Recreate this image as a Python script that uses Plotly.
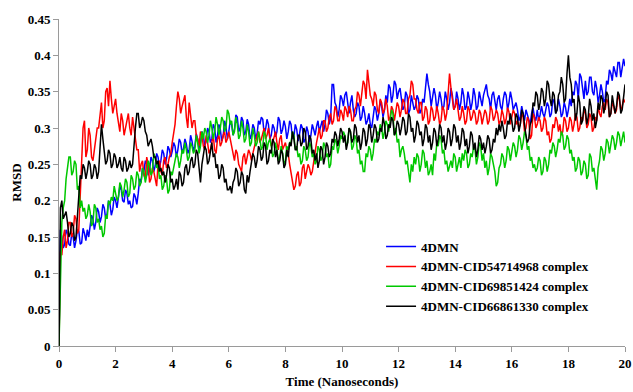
import plotly.graph_objects as go

# time axis: 0 to 20 ns in 0.05 ns steps
time_ns = [round(0.05 * i, 2) for i in range(401)]

series_names = ["4DMN", "4DMN-CID54714968 complex", "4DMN-CID69851424 complex", "4DMN-CID66861330 complex"]

rmsd_4dmn = [0,
    0.16, 0.15, 0.135, 0.14, 0.16, 0.155, 0.14, 0.138, 0.155, 0.15, 0.135, 0.145, 0.16, 0.158, 0.14, 0.142, 0.162, 0.155, 0.145, 0.16,
    0.15, 0.165, 0.18, 0.175, 0.16, 0.17, 0.19, 0.185, 0.17, 0.178, 0.195, 0.19, 0.175, 0.182, 0.2, 0.195, 0.18, 0.188, 0.205, 0.2,
    0.19, 0.205, 0.22, 0.215, 0.2, 0.198, 0.215, 0.21, 0.195, 0.2, 0.19, 0.192, 0.21, 0.205, 0.195, 0.21, 0.23, 0.225, 0.245, 0.24,
    0.255, 0.25, 0.235, 0.242, 0.26, 0.255, 0.24, 0.248, 0.265, 0.26, 0.245, 0.255, 0.27, 0.265, 0.25, 0.258, 0.275, 0.27, 0.26, 0.268,
    0.28, 0.275, 0.26, 0.27, 0.285, 0.28, 0.265, 0.272, 0.285, 0.278, 0.265, 0.27, 0.29, 0.282, 0.268, 0.275, 0.292, 0.285, 0.27, 0.28,
    0.295, 0.29, 0.275, 0.282, 0.3, 0.295, 0.28, 0.285, 0.305, 0.3, 0.28, 0.29, 0.305, 0.298, 0.282, 0.288, 0.31, 0.302, 0.285, 0.295,
    0.31, 0.305, 0.29, 0.298, 0.318, 0.315, 0.295, 0.3, 0.315, 0.31, 0.29, 0.295, 0.312, 0.305, 0.285, 0.29, 0.305, 0.3, 0.285, 0.292,
    0.31, 0.305, 0.315, 0.312, 0.292, 0.298, 0.312, 0.305, 0.285, 0.29, 0.305, 0.3, 0.288, 0.295, 0.315, 0.31, 0.292, 0.298, 0.31, 0.302,
    0.285, 0.295, 0.31, 0.305, 0.285, 0.288, 0.305, 0.298, 0.282, 0.292, 0.305, 0.3, 0.28, 0.285, 0.302, 0.295, 0.28, 0.29, 0.305, 0.298,
    0.29, 0.302, 0.31, 0.295, 0.305, 0.31, 0.295, 0.305, 0.325, 0.32, 0.305, 0.315, 0.36, 0.36, 0.335, 0.33, 0.315, 0.325, 0.345, 0.34,
    0.33, 0.345, 0.35, 0.33, 0.32, 0.335, 0.345, 0.325, 0.315, 0.32, 0.335, 0.33, 0.31, 0.315, 0.33, 0.32, 0.305, 0.31, 0.32, 0.305,
    0.3, 0.315, 0.33, 0.325, 0.31, 0.32, 0.338, 0.33, 0.315, 0.325, 0.345, 0.335, 0.36, 0.355, 0.335, 0.345, 0.365, 0.36, 0.34, 0.35,
    0.355, 0.34, 0.325, 0.33, 0.35, 0.345, 0.32, 0.325, 0.345, 0.335, 0.325, 0.33, 0.345, 0.34, 0.32, 0.325, 0.34, 0.335, 0.36, 0.375,
    0.36, 0.35, 0.33, 0.34, 0.355, 0.345, 0.325, 0.335, 0.35, 0.34, 0.325, 0.33, 0.35, 0.34, 0.325, 0.335, 0.355, 0.345, 0.325, 0.33,
    0.35, 0.34, 0.325, 0.335, 0.355, 0.345, 0.325, 0.33, 0.35, 0.34, 0.325, 0.335, 0.355, 0.345, 0.325, 0.33, 0.35, 0.34, 0.33, 0.345,
    0.355, 0.36, 0.345, 0.34, 0.325, 0.345, 0.35, 0.335, 0.325, 0.34, 0.345, 0.33, 0.325, 0.34, 0.35, 0.345, 0.325, 0.335, 0.35, 0.34,
    0.325, 0.33, 0.335, 0.325, 0.31, 0.315, 0.33, 0.32, 0.31, 0.325, 0.318, 0.31, 0.305, 0.32, 0.328, 0.315, 0.31, 0.325, 0.31, 0.318,
    0.33, 0.32, 0.315, 0.325, 0.335, 0.33, 0.315, 0.32, 0.34, 0.335, 0.32, 0.325, 0.34, 0.33, 0.315, 0.32, 0.335, 0.328, 0.315, 0.325,
    0.34, 0.33, 0.35, 0.345, 0.365, 0.36, 0.34, 0.375, 0.37, 0.355, 0.34, 0.365, 0.345, 0.35, 0.37, 0.37, 0.35, 0.345, 0.365, 0.355,
    0.335, 0.345, 0.36, 0.35, 0.335, 0.34, 0.365, 0.36, 0.38, 0.375, 0.365, 0.385, 0.375, 0.37, 0.39, 0.39, 0.37, 0.38, 0.395, 0.385]

rmsd_cid54714968 = [0,
    0.13, 0.125, 0.15, 0.16, 0.135, 0.145, 0.17, 0.17, 0.15, 0.155, 0.18, 0.175, 0.155, 0.16, 0.2, 0.24, 0.3, 0.31, 0.26, 0.27,
    0.3, 0.29, 0.26, 0.255, 0.27, 0.28, 0.3, 0.3, 0.32, 0.335, 0.3, 0.31, 0.35, 0.355, 0.33, 0.365, 0.34, 0.32, 0.33, 0.34,
    0.32, 0.305, 0.295, 0.32, 0.31, 0.29, 0.3, 0.31, 0.32, 0.3, 0.29, 0.315, 0.3, 0.29, 0.27, 0.27, 0.24, 0.25, 0.255, 0.235,
    0.23, 0.26, 0.25, 0.225, 0.23, 0.245, 0.24, 0.23, 0.22, 0.25, 0.255, 0.24, 0.235, 0.255, 0.26, 0.245, 0.25, 0.26, 0.265, 0.28,
    0.29, 0.305, 0.33, 0.35, 0.34, 0.32, 0.33, 0.34, 0.345, 0.315, 0.3, 0.335, 0.32, 0.3, 0.31, 0.31, 0.29, 0.285, 0.275, 0.295,
    0.29, 0.275, 0.27, 0.29, 0.28, 0.265, 0.27, 0.28, 0.29, 0.27, 0.265, 0.285, 0.29, 0.275, 0.28, 0.29, 0.295, 0.28, 0.285, 0.295,
    0.285, 0.27, 0.26, 0.255, 0.27, 0.265, 0.25, 0.245, 0.24, 0.26, 0.265, 0.25, 0.26, 0.27, 0.265, 0.255, 0.265, 0.275, 0.28, 0.29,
    0.295, 0.28, 0.285, 0.295, 0.3, 0.285, 0.29, 0.3, 0.285, 0.275, 0.28, 0.29, 0.295, 0.28, 0.27, 0.285, 0.29, 0.27, 0.275, 0.28,
    0.27, 0.265, 0.25, 0.24, 0.225, 0.215, 0.22, 0.235, 0.24, 0.22, 0.225, 0.245, 0.25, 0.23, 0.24, 0.25, 0.245, 0.235, 0.24, 0.255,
    0.265, 0.28, 0.29, 0.3, 0.285, 0.29, 0.31, 0.31, 0.295, 0.3, 0.315, 0.32, 0.305, 0.31, 0.33, 0.325, 0.31, 0.31, 0.325, 0.32,
    0.31, 0.33, 0.325, 0.315, 0.33, 0.325, 0.31, 0.31, 0.325, 0.33, 0.35, 0.345, 0.33, 0.35, 0.365, 0.36, 0.34, 0.38, 0.36, 0.345,
    0.34, 0.33, 0.35, 0.345, 0.325, 0.32, 0.34, 0.335, 0.32, 0.325, 0.34, 0.33, 0.31, 0.315, 0.33, 0.325, 0.31, 0.32, 0.335, 0.33,
    0.315, 0.325, 0.34, 0.335, 0.32, 0.32, 0.34, 0.345, 0.365, 0.36, 0.34, 0.34, 0.325, 0.32, 0.335, 0.335, 0.31, 0.315, 0.33, 0.325,
    0.305, 0.31, 0.33, 0.325, 0.31, 0.315, 0.33, 0.32, 0.305, 0.31, 0.33, 0.325, 0.31, 0.32, 0.345, 0.375, 0.355, 0.34, 0.325, 0.33,
    0.34, 0.325, 0.31, 0.315, 0.33, 0.32, 0.305, 0.31, 0.33, 0.325, 0.31, 0.315, 0.325, 0.32, 0.305, 0.31, 0.325, 0.32, 0.305, 0.315,
    0.325, 0.32, 0.305, 0.31, 0.33, 0.325, 0.31, 0.315, 0.325, 0.32, 0.305, 0.31, 0.325, 0.318, 0.305, 0.312, 0.328, 0.322, 0.305, 0.315,
    0.325, 0.32, 0.305, 0.31, 0.3, 0.305, 0.32, 0.315, 0.295, 0.3, 0.315, 0.31, 0.285, 0.29, 0.32, 0.315, 0.3, 0.305, 0.315, 0.31,
    0.295, 0.3, 0.315, 0.31, 0.29, 0.295, 0.28, 0.285, 0.305, 0.3, 0.315, 0.31, 0.295, 0.305, 0.29, 0.295, 0.315, 0.31, 0.295, 0.3,
    0.315, 0.31, 0.295, 0.305, 0.32, 0.315, 0.295, 0.3, 0.315, 0.31, 0.325, 0.32, 0.3, 0.305, 0.32, 0.315, 0.295, 0.3, 0.315, 0.31,
    0.33, 0.32, 0.315, 0.33, 0.335, 0.325, 0.34, 0.335, 0.315, 0.32, 0.335, 0.33, 0.32, 0.325, 0.345, 0.34, 0.325, 0.33, 0.34, 0.335]

rmsd_cid69851424 = [0,
    0.11, 0.17, 0.19, 0.2, 0.23, 0.245, 0.26, 0.26, 0.235, 0.24, 0.255, 0.25, 0.215, 0.22, 0.19, 0.2, 0.185, 0.19, 0.175, 0.18,
    0.195, 0.185, 0.165, 0.17, 0.195, 0.19, 0.17, 0.175, 0.16, 0.165, 0.15, 0.155, 0.18, 0.175, 0.2, 0.195, 0.205, 0.2, 0.22, 0.21,
    0.2, 0.205, 0.225, 0.22, 0.205, 0.215, 0.23, 0.225, 0.205, 0.21, 0.235, 0.23, 0.215, 0.22, 0.24, 0.235, 0.22, 0.225, 0.245, 0.24,
    0.225, 0.235, 0.255, 0.25, 0.235, 0.24, 0.265, 0.26, 0.245, 0.25, 0.23, 0.235, 0.215, 0.22, 0.235, 0.23, 0.21, 0.215, 0.24, 0.235,
    0.245, 0.25, 0.265, 0.26, 0.245, 0.255, 0.27, 0.265, 0.28, 0.27, 0.255, 0.26, 0.28, 0.275, 0.265, 0.27, 0.29, 0.28, 0.265, 0.275,
    0.295, 0.285, 0.3, 0.295, 0.28, 0.29, 0.31, 0.3, 0.285, 0.295, 0.315, 0.305, 0.29, 0.3, 0.315, 0.31, 0.295, 0.3, 0.325, 0.32,
    0.305, 0.31, 0.29, 0.295, 0.315, 0.305, 0.285, 0.29, 0.31, 0.3, 0.28, 0.285, 0.305, 0.295, 0.275, 0.28, 0.3, 0.29, 0.275, 0.28,
    0.295, 0.285, 0.27, 0.275, 0.295, 0.29, 0.27, 0.28, 0.285, 0.275, 0.26, 0.265, 0.28, 0.27, 0.255, 0.26, 0.275, 0.265, 0.25, 0.255,
    0.275, 0.27, 0.28, 0.28, 0.295, 0.29, 0.27, 0.275, 0.26, 0.265, 0.25, 0.255, 0.275, 0.27, 0.255, 0.26, 0.28, 0.275, 0.26, 0.265,
    0.25, 0.255, 0.275, 0.27, 0.255, 0.26, 0.28, 0.275, 0.26, 0.265, 0.245, 0.25, 0.275, 0.27, 0.285, 0.28, 0.265, 0.275, 0.29, 0.285,
    0.295, 0.29, 0.275, 0.28, 0.3, 0.295, 0.27, 0.275, 0.29, 0.285, 0.265, 0.27, 0.25, 0.255, 0.24, 0.24, 0.265, 0.26, 0.275, 0.27,
    0.255, 0.265, 0.285, 0.28, 0.295, 0.29, 0.305, 0.3, 0.285, 0.295, 0.31, 0.305, 0.295, 0.31, 0.325, 0.32, 0.29, 0.3, 0.28, 0.285,
    0.26, 0.27, 0.275, 0.265, 0.25, 0.255, 0.235, 0.225, 0.25, 0.24, 0.26, 0.25, 0.265, 0.26, 0.24, 0.25, 0.27, 0.265, 0.245, 0.255,
    0.235, 0.24, 0.25, 0.235, 0.265, 0.255, 0.28, 0.275, 0.29, 0.285, 0.265, 0.27, 0.25, 0.255, 0.24, 0.25, 0.255, 0.245, 0.265, 0.26,
    0.24, 0.25, 0.26, 0.245, 0.265, 0.255, 0.27, 0.265, 0.245, 0.25, 0.265, 0.26, 0.275, 0.27, 0.25, 0.26, 0.28, 0.275, 0.255, 0.265,
    0.245, 0.255, 0.235, 0.245, 0.265, 0.26, 0.25, 0.24, 0.22, 0.225, 0.245, 0.25, 0.265, 0.26, 0.245, 0.255, 0.275, 0.27, 0.255, 0.265,
    0.28, 0.275, 0.26, 0.27, 0.29, 0.285, 0.27, 0.28, 0.295, 0.29, 0.27, 0.275, 0.255, 0.26, 0.245, 0.25, 0.24, 0.245, 0.26, 0.255,
    0.235, 0.24, 0.26, 0.255, 0.24, 0.25, 0.27, 0.265, 0.28, 0.275, 0.26, 0.27, 0.285, 0.28, 0.295, 0.29, 0.27, 0.275, 0.29, 0.285,
    0.265, 0.27, 0.255, 0.26, 0.24, 0.245, 0.26, 0.255, 0.235, 0.24, 0.255, 0.25, 0.23, 0.235, 0.265, 0.26, 0.24, 0.245, 0.225, 0.215,
    0.245, 0.255, 0.275, 0.27, 0.255, 0.265, 0.285, 0.28, 0.265, 0.275, 0.29, 0.285, 0.27, 0.28, 0.295, 0.29, 0.275, 0.285, 0.295, 0.28]

rmsd_cid66861330 = [0,
    0.19, 0.2, 0.175, 0.18, 0.185, 0.17, 0.15, 0.155, 0.17, 0.165, 0.145, 0.15, 0.18, 0.2, 0.235, 0.23, 0.25, 0.245, 0.23, 0.24,
    0.255, 0.25, 0.23, 0.235, 0.25, 0.245, 0.23, 0.24, 0.28, 0.305, 0.285, 0.27, 0.25, 0.255, 0.27, 0.265, 0.245, 0.25, 0.265, 0.26,
    0.245, 0.25, 0.26, 0.245, 0.24, 0.26, 0.255, 0.24, 0.245, 0.255, 0.245, 0.25, 0.28, 0.3, 0.32, 0.32, 0.3, 0.305, 0.315, 0.31,
    0.295, 0.29, 0.275, 0.28, 0.285, 0.275, 0.26, 0.26, 0.25, 0.255, 0.24, 0.245, 0.235, 0.24, 0.225, 0.235, 0.25, 0.245, 0.225, 0.23,
    0.215, 0.22, 0.23, 0.215, 0.24, 0.235, 0.22, 0.225, 0.245, 0.25, 0.235, 0.24, 0.255, 0.26, 0.245, 0.25, 0.27, 0.265, 0.24, 0.225,
    0.25, 0.26, 0.275, 0.27, 0.25, 0.255, 0.27, 0.28, 0.26, 0.265, 0.245, 0.25, 0.23, 0.235, 0.25, 0.245, 0.225, 0.23, 0.215, 0.215,
    0.22, 0.21, 0.225, 0.23, 0.245, 0.24, 0.22, 0.225, 0.24, 0.235, 0.215, 0.21, 0.235, 0.225, 0.24, 0.25, 0.265, 0.26, 0.245, 0.255,
    0.275, 0.27, 0.255, 0.26, 0.28, 0.275, 0.25, 0.255, 0.27, 0.265, 0.285, 0.28, 0.26, 0.27, 0.25, 0.255, 0.27, 0.265, 0.245, 0.25,
    0.27, 0.26, 0.28, 0.275, 0.295, 0.285, 0.27, 0.27, 0.29, 0.29, 0.275, 0.28, 0.3, 0.295, 0.27, 0.275, 0.29, 0.285, 0.265, 0.27,
    0.255, 0.265, 0.245, 0.255, 0.275, 0.27, 0.25, 0.26, 0.28, 0.275, 0.26, 0.265, 0.285, 0.28, 0.295, 0.29, 0.275, 0.285, 0.3, 0.295,
    0.28, 0.29, 0.27, 0.28, 0.3, 0.295, 0.28, 0.285, 0.305, 0.3, 0.28, 0.29, 0.27, 0.28, 0.3, 0.295, 0.275, 0.285, 0.305, 0.3,
    0.28, 0.29, 0.305, 0.3, 0.28, 0.285, 0.3, 0.295, 0.315, 0.305, 0.285, 0.29, 0.305, 0.3, 0.315, 0.31, 0.29, 0.295, 0.31, 0.305,
    0.29, 0.3, 0.315, 0.31, 0.29, 0.295, 0.32, 0.315, 0.295, 0.3, 0.28, 0.29, 0.31, 0.305, 0.29, 0.295, 0.275, 0.285, 0.305, 0.3,
    0.28, 0.29, 0.27, 0.28, 0.3, 0.295, 0.275, 0.285, 0.305, 0.3, 0.28, 0.29, 0.27, 0.28, 0.3, 0.295, 0.275, 0.285, 0.305, 0.3,
    0.28, 0.29, 0.27, 0.28, 0.3, 0.295, 0.275, 0.285, 0.265, 0.275, 0.295, 0.29, 0.27, 0.28, 0.26, 0.27, 0.29, 0.285, 0.27, 0.28,
    0.265, 0.275, 0.29, 0.285, 0.265, 0.27, 0.285, 0.28, 0.3, 0.29, 0.305, 0.295, 0.31, 0.3, 0.285, 0.29, 0.31, 0.305, 0.32, 0.31,
    0.295, 0.3, 0.32, 0.315, 0.295, 0.305, 0.325, 0.32, 0.3, 0.29, 0.28, 0.285, 0.305, 0.31, 0.335, 0.33, 0.35, 0.345, 0.325, 0.335,
    0.355, 0.35, 0.33, 0.34, 0.365, 0.36, 0.34, 0.33, 0.35, 0.345, 0.32, 0.325, 0.345, 0.35, 0.37, 0.36, 0.335, 0.34, 0.375, 0.4,
    0.37, 0.36, 0.335, 0.34, 0.31, 0.32, 0.345, 0.335, 0.305, 0.31, 0.33, 0.325, 0.305, 0.315, 0.34, 0.33, 0.31, 0.32, 0.3, 0.31,
    0.335, 0.325, 0.345, 0.34, 0.32, 0.33, 0.35, 0.345, 0.315, 0.32, 0.345, 0.335, 0.32, 0.33, 0.35, 0.345, 0.32, 0.325, 0.34, 0.36]

series_values = [rmsd_4dmn, rmsd_cid54714968, rmsd_cid69851424, rmsd_cid66861330]
series_colors = ["#0000FF", "#FF0000", "#00C800", "#000000"]

x_ticks = [0, 2, 4, 6, 8, 10, 12, 14, 16, 18, 20]
x_tick_labels = ["0", "2", "4", "6", "8", "10", "12", "14", "16", "18", "20"]
y_ticks = [0, 0.05, 0.1, 0.15, 0.2, 0.25, 0.3, 0.35, 0.4, 0.45]
y_tick_labels = ["0", "0.05", "0.1", "0.15", "0.2", "0.25", "0.3", "0.35", "0.4", "0.45"]

FONT = "Liberation Serif"

fig = go.Figure()
for name, vals, col in zip(series_names, series_values, series_colors):
    fig.add_trace(go.Scatter(x=time_ns[:len(vals)], y=vals, mode="lines", name="<b>%s</b>" % name,
                             line=dict(color=col, width=1.5)))

axis_common = dict(showgrid=False, zeroline=False, showline=True, linecolor="#9a9a9a",
                   linewidth=1, ticks="outside", ticklen=5, tickcolor="#9a9a9a",
                   automargin=False,
                   tickfont=dict(family=FONT, size=13, color="black"))

fig.update_xaxes(range=[0, 20], tickvals=x_ticks, ticktext=["<b>%s</b>" % t for t in x_tick_labels],
                 title=dict(text="<b>Time (Nanoseconds)</b>", standoff=7,
                            font=dict(family=FONT, size=13, color="black")),
                 **axis_common)
fig.update_yaxes(range=[0, 0.45], tickvals=y_ticks, ticktext=["<b>%s</b>" % t for t in y_tick_labels],
                 title=dict(text="<b>RMSD</b>", standoff=3,
                            font=dict(family=FONT, size=13, color="black")),
                 **axis_common)

fig.update_layout(
    width=633, height=392,
    margin=dict(l=59, r=8, t=19, b=46),
    plot_bgcolor="white", paper_bgcolor="white",
    legend=dict(x=0.569, y=0.35, xanchor="left", yanchor="top",
                bgcolor="rgba(0,0,0,0)", itemwidth=30, tracegroupgap=0,
                font=dict(family=FONT, size=13, color="black")),
)

# remove the default page-body margin so the figure sits at the window's top-left corner
fig.write_html("out.html", config={"displayModeBar": False},
               post_script="document.body.style.margin='0';document.body.style.overflow='hidden';")
